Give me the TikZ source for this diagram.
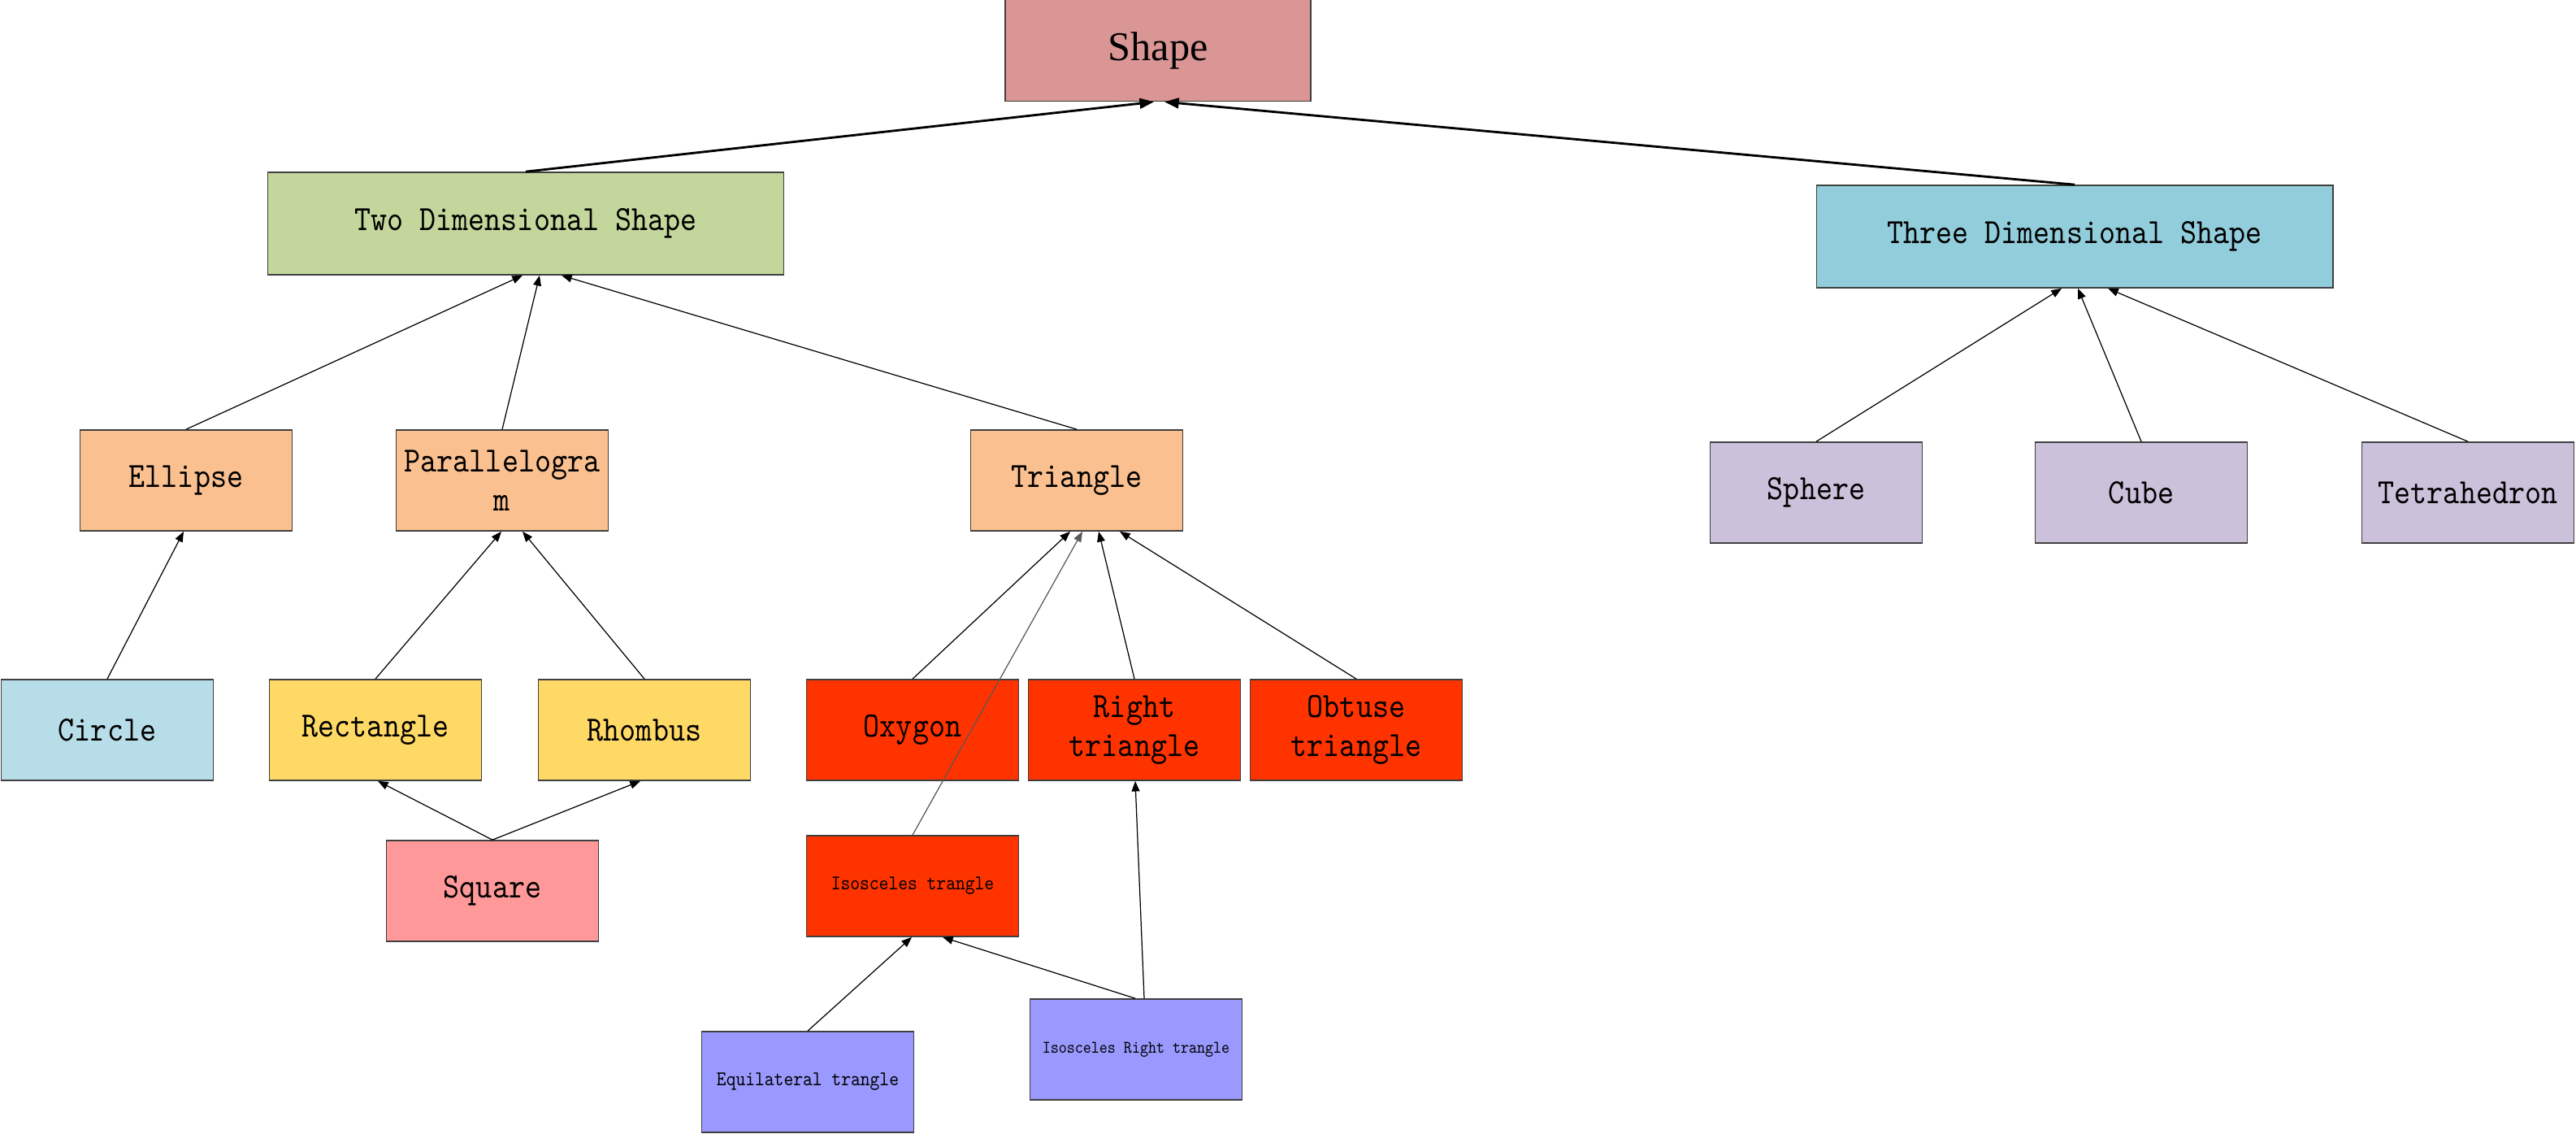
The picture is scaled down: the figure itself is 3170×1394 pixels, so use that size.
\documentclass[tikz,border=0pt]{standalone}
\usepackage{fontspec}
\setmainfont{Liberation Serif}
\newfontfamily\boxfont[FakeStretch=0.875]{lmmono10-regular.otf}
\usetikzlibrary{arrows.meta}

\definecolor{boxline}{HTML}{3F3F3F}
\definecolor{cRoot}{HTML}{D99694}
\definecolor{cTwo}{HTML}{C3D69B}
\definecolor{cThree}{HTML}{92CDDC}
\definecolor{cPeach}{HTML}{FAC090}
\definecolor{cLilac}{HTML}{CCC1DA}
\definecolor{cIce}{HTML}{B7DDE8}
\definecolor{cGold}{HTML}{FFD966}
\definecolor{cPink}{HTML}{FF9999}
\definecolor{cRed}{HTML}{FF3300}
\definecolor{cPeri}{HTML}{9999FF}

\begin{document}
\begin{tikzpicture}[x=0.01cm,y=-0.01cm,
  box/.style={draw=boxline, line width=0.45pt, inner sep=0pt,
    minimum width=2.61cm, minimum height=1.24cm, align=center,
    font={\boxfont\fontsize{12.4}{13.7}\selectfont}},
  widebox/.style={box, minimum width=6.35cm, minimum height=1.26cm},
  smallbox/.style={box, font={\boxfont\fontsize{7.3}{8.5}\selectfont}},
  tinybox/.style={box, font={\boxfont\fontsize{6.2}{7.5}\selectfont}},
  link/.style={line width=0.35pt, -{Triangle[length=3.6pt,width=2.8pt]}},
  toplink/.style={line width=0.8pt, -{Triangle[length=5pt,width=3.6pt]}}]

\useasboundingbox (0,0) rectangle (3170,1394);

% root
\node[draw=boxline, line width=0.45pt, fill=cRoot, minimum width=3.76cm,
  minimum height=1.25cm, inner sep=0pt, font=\fontsize{14.3}{17}\selectfont]
  (shape) at (1425,62) {Shape};

% second level
\node[widebox, fill=cTwo]   (twod)   at (647,275)  {Two Dimensional Shape};
\node[widebox, fill=cThree] (threed) at (2553,291) {Three Dimensional Shape};

% third level
\node[box, fill=cPeach] (ellipse) at (229,591)  {Ellipse};
\node[box, fill=cPeach] (para)    at (618,591)  {Parallelogra\\m};
\node[box, fill=cPeach] (tri)     at (1325,591) {Triangle};
\node[box, fill=cLilac] (sphere)  at (2235,606) {Sphere};
\node[box, fill=cLilac] (cube)    at (2635,606) {Cube};
\node[box, fill=cLilac] (tetra)   at (3037,606) {Tetrahedron};

% fourth level
\node[box, fill=cIce]  (circle)  at (132,898)  {Circle};
\node[box, fill=cGold] (rect)    at (462,898)  {Rectangle};
\node[box, fill=cGold] (rhombus) at (793,898)  {Rhombus};
\node[box, fill=cRed]  (oxygon)  at (1123,898) {Oxygon};
\node[box, fill=cRed]  (right)   at (1396,898) {Right\\triangle};
\node[box, fill=cRed]  (obtuse)  at (1669,898) {Obtuse\\triangle};

% lower levels
\node[box, fill=cPink]      (square) at (606,1096)  {Square};
\node[smallbox, fill=cRed]  (isos)   at (1123,1090) {Isosceles trangle};
\node[smallbox, fill=cPeri] (equi)   at (994,1331)  {Equilateral trangle};
\node[tinybox, fill=cPeri]  (isosr)  at (1398,1291) {Isosceles Right trangle};

% connectors
\draw[toplink] (twod.north)   -- ([xshift=-0.05cm]shape.south);
\draw[toplink] (threed.north) -- ([xshift=0.08cm]shape.south);

\draw[link] (ellipse.north) -- ([xshift=-0.04cm]twod.south);
\draw[link] (para.north)    -- ([xshift=0.17cm]twod.south);
\draw[link] (tri.north)     -- ([xshift=0.44cm]twod.south);

\draw[link] (sphere.north) -- ([xshift=-0.16cm]threed.south);
\draw[link] (cube.north)   -- ([xshift=0.04cm]threed.south);
\draw[link] (tetra.north)  -- ([xshift=0.41cm]threed.south);

\draw[link] (circle.north)  -- ([xshift=-0.03cm]ellipse.south);
\draw[link] (rect.north)    -- ([xshift=-0.01cm]para.south);
\draw[link] (rhombus.north) -- ([xshift=0.25cm]para.south);

\draw[link] (oxygon.north) -- ([xshift=-0.08cm]tri.south);
\draw[link, draw=black!65, fill=black!70] (isos.north) -- ([xshift=0.07cm]tri.south);
\draw[link] (right.north)  -- ([xshift=0.27cm]tri.south);
\draw[link] (obtuse.north) -- ([xshift=0.53cm]tri.south);

\draw[link] (square.north) -- ([xshift=0.03cm]rect.south);
\draw[link] (square.north) -- ([xshift=-0.05cm]rhombus.south);

\draw[link] ([xshift=0.10cm]isosr.north) -- ([xshift=0.01cm]right.south);
\draw[link] ([xshift=-0.01cm]isosr.north) -- ([xshift=0.37cm]isos.south);
\draw[link] (equi.north) -- ([xshift=-0.01cm]isos.south);

\end{tikzpicture}
\end{document}
